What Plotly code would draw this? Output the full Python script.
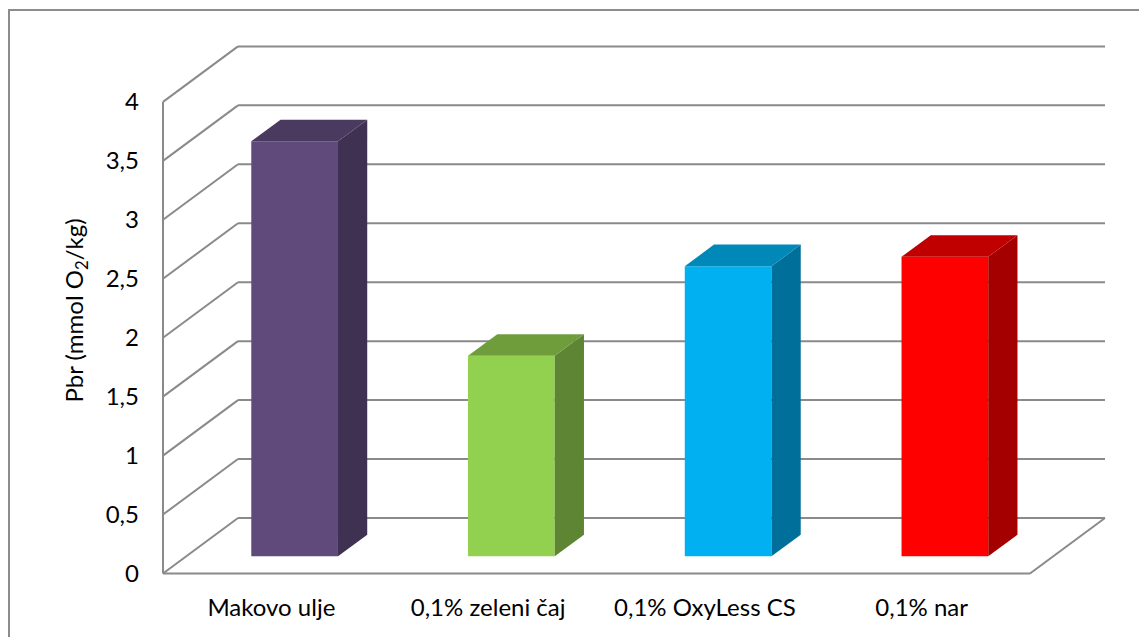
import plotly.graph_objects as go

# ---- data ----
categories = ["Makovo ulje", "0,1% zeleni čaj", "0,1% OxyLess CS", "0,1% nar"]
values = [3.52, 1.70, 2.46, 2.54]
y_ticks = [0, 0.5, 1, 1.5, 2, 2.5, 3, 3.5, 4]
y_ticktext = ["0", "0,5", "1", "1,5", "2", "2,5", "3", "3,5", "4"]
front_colors = ["#604A7B", "#92D050", "#00B0F0", "#FF0000"]
side_colors = ["#3F3151", "#5E8533", "#00709A", "#A50000"]
top_colors = ["#4A3A5F", "#6F9D3C", "#0088B9", "#C00000"]

# ---- geometry (pixel layout; the page body adds an 8px offset) ----
OFF = 8
W_PX, H_PX = 1147 - OFF, 637 - OFF
L, R, T, B = 161 - OFF, 1106 - OFF, 45 - OFF, 576 - OFF   # plot area in figure pixels
XS, YS = 216.75, 117.9                     # px per category / per value unit
X0_PX, Y0_PX = 163 - OFF, 573.5 - OFF      # pixel of x=-0.5 and value 0 (front plane)
DX, DY = 75 / XS, 55.5 / YS                # full depth offset in data units
F_FRONT, F_SIDE = 0.31, 0.39               # bar front position / bar depth (fractions)
BW = 0.40                                  # bar width (category units)
FX, FY = F_FRONT * DX, F_FRONT * DY
SX, SY = F_SIDE * DX, F_SIDE * DY

x_range = [-0.5 - (X0_PX - L) / XS, -0.5 + (R - X0_PX) / XS]
y_range = [-(B - Y0_PX) / YS, (Y0_PX - T) / YS]

n = len(categories)
xmin, xmax = -0.5, n - 0.5
ymax = y_ticks[-1]

GRID = "#8A8A8A"
shapes = []
def seg(x0, y0, x1, y1):
    shapes.append(dict(type="line", xref="x", yref="y", x0=x0, y0=y0, x1=x1, y1=y1,
                       line=dict(color=GRID, width=2), layer="below"))

for v in y_ticks:
    seg(xmin + DX, v + DY, xmax + DX, v + DY)   # back wall gridline
    seg(xmin, v, xmin + DX, v + DY)             # side wall gridline
seg(xmin, 0, xmin, ymax)                         # left axis
seg(xmin, 0, xmax, 0)                            # front floor edge
seg(xmax, 0, xmax + DX, DY)                      # right floor edge

# chart border
def px_to_paper_x(px):
    return (px - L) / (R - L)
def px_to_paper_y(py):
    return (B - py) / (B - T)
shapes.append(dict(type="rect", xref="paper", yref="paper",
                   x0=px_to_paper_x(1), x1=px_to_paper_x(1170),
                   y0=px_to_paper_y(660), y1=px_to_paper_y(2),
                   line=dict(color="#8C8C8C", width=2), fillcolor="rgba(0,0,0,0)",
                   layer="below"))

fig = go.Figure()

# front faces
fig.add_trace(go.Bar(
    x=[i + FX for i in range(n)], y=values, base=[FY] * n, width=[BW] * n,
    marker=dict(color=front_colors, line=dict(width=0)),
    hoverinfo="skip", showlegend=False))

# side and top faces
for i, v in enumerate(values):
    xl = i + FX - BW / 2
    xr = i + FX + BW / 2
    yb = FY
    yt = FY + v
    fig.add_trace(go.Scatter(
        x=[xr, xr + SX, xr + SX, xr, xr], y=[yb, yb + SY, yt + SY, yt, yb],
        mode="lines", fill="toself", fillcolor=side_colors[i],
        line=dict(width=0, color=side_colors[i]), hoverinfo="skip", showlegend=False))
    fig.add_trace(go.Scatter(
        x=[xl, xl + SX, xr + SX, xr, xl], y=[yt, yt + SY, yt + SY, yt, yt],
        mode="lines", fill="toself", fillcolor=top_colors[i],
        line=dict(width=0, color=top_colors[i]), hoverinfo="skip", showlegend=False))

FONT = "Lato"
FS = 24
fig.update_layout(
    width=W_PX, height=H_PX,
    margin=dict(l=L, r=W_PX - R, t=T, b=H_PX - B, pad=0),
    paper_bgcolor="white", plot_bgcolor="white",
    font=dict(family=FONT, size=FS, color="black"),
    shapes=shapes,
    separators=", ",
    xaxis=dict(range=x_range, tickmode="array", tickvals=list(range(n)), ticktext=categories,
               showgrid=False, zeroline=False, showline=False, ticks="",
               ticklabelstandoff=15, tickfont=dict(size=FS)),
    yaxis=dict(range=y_range, tickmode="array", tickvals=y_ticks, ticktext=y_ticktext,
               showgrid=False, zeroline=False, showline=False, ticks="",
               ticklabelstandoff=21, tickfont=dict(size=FS),
               title=dict(text="Pbr (mmol O<sub>2</sub>/kg)", standoff=15,
                          font=dict(size=FS))),
)

fig.write_html("out.html")
